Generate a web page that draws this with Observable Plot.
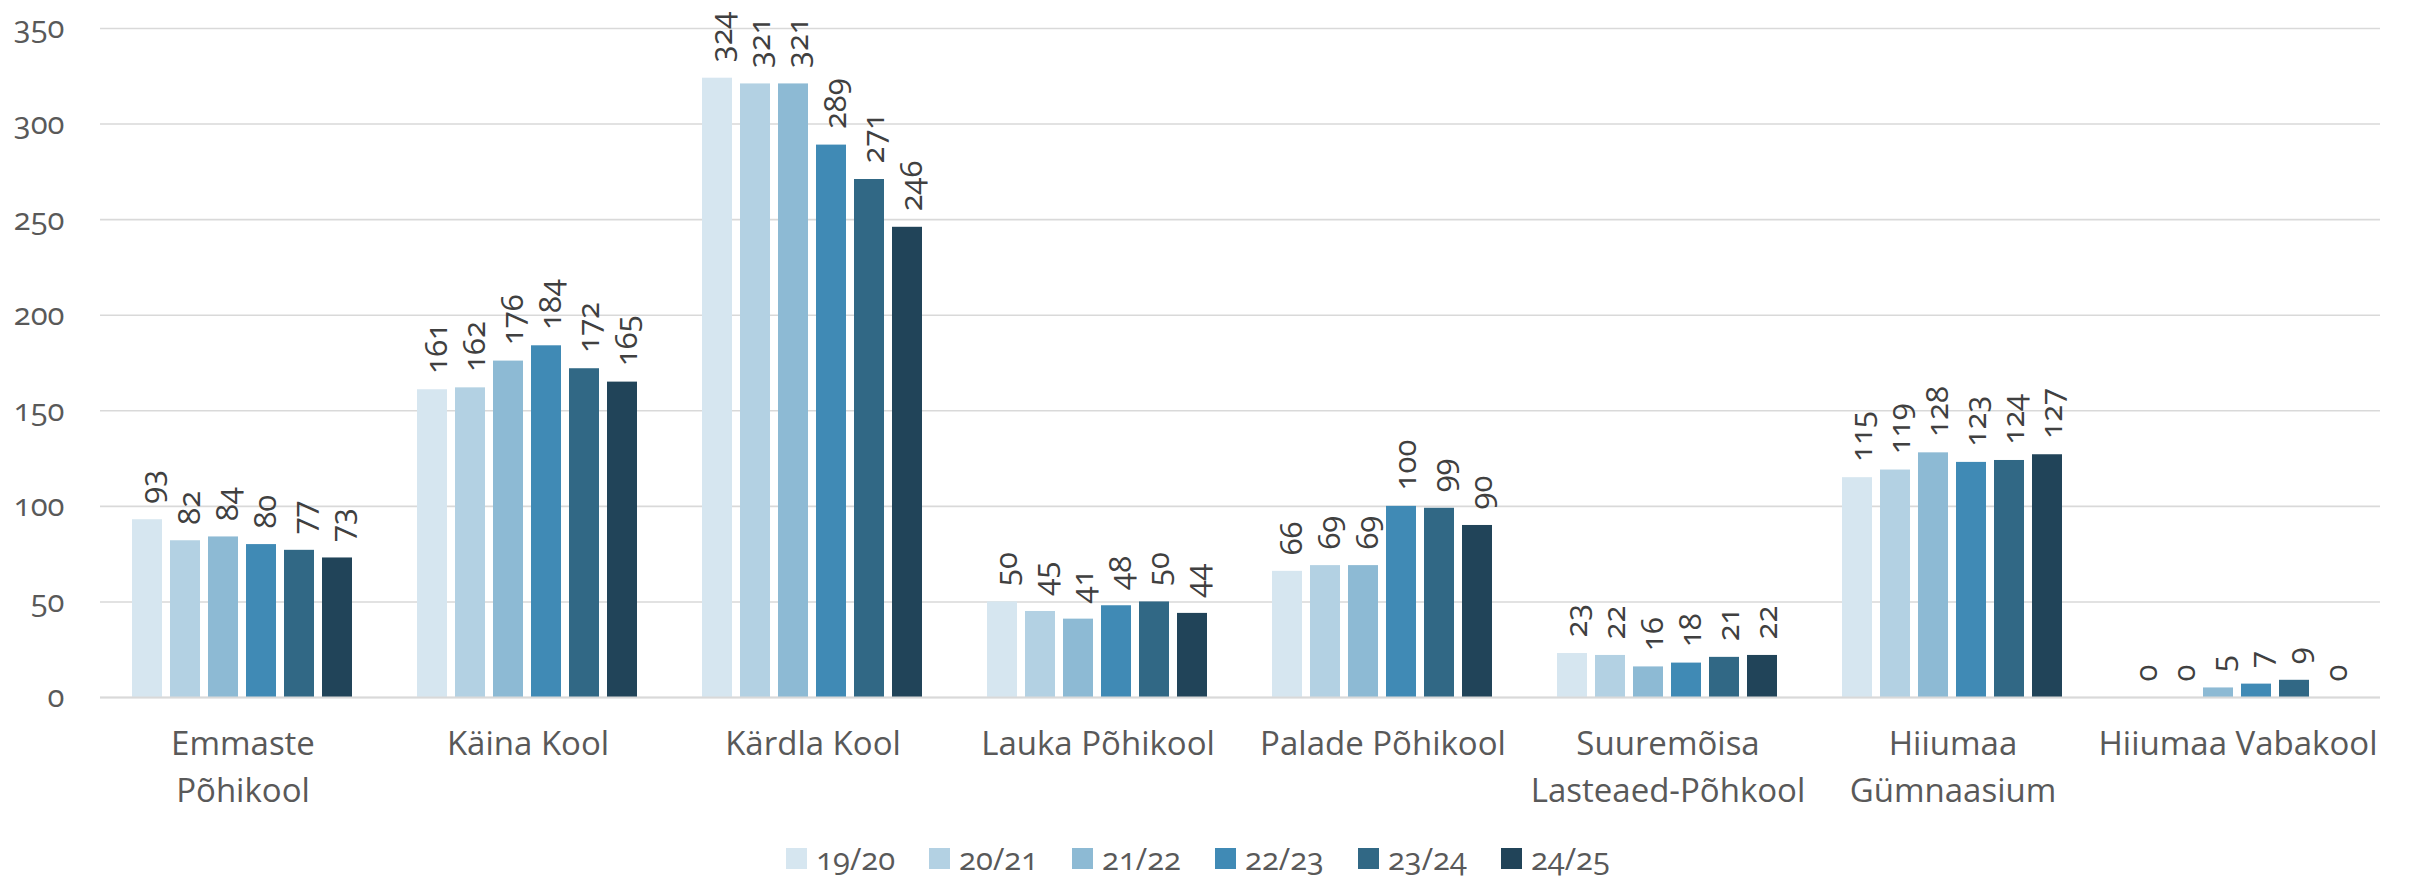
<!DOCTYPE html>
<html>
<head>
<meta charset="utf-8">
<script src="https://cdn.jsdelivr.net/npm/d3@7"></script>
<script src="https://cdn.jsdelivr.net/npm/@observablehq/plot@0.6"></script>
<style>
  html, body { margin: 0; padding: 0; background: #fff; }
  body { width: 2412px; height: 879px; overflow: hidden; font-family: "Open Sans", sans-serif; }
  #legend { display: flex; justify-content: center; padding-top: 23px; padding-right: 16px; height: 31px; }
  .item { display: flex; align-items: center; height: 21px; margin-right: 34px; }
  .item:last-child { margin-right: 0; }
  .sw { width: 21px; height: 21px; margin-right: 9px; }
  .lbl { font-size: 31px; color: #595959; line-height: 21px; font-variant-numeric: oldstyle-nums; }
</style>
</head>
<body>
<div id="chart"></div>
<div id="legend"></div>
<script>
const schools = [
  "Emmaste\nPõhikool",
  "Käina Kool",
  "Kärdla Kool",
  "Lauka Põhikool",
  "Palade Põhikool",
  "Suuremõisa\nLasteaed-Põhkool",
  "Hiiumaa\nGümnaasium",
  "Hiiumaa Vabakool"
];
const years = ["19/20", "20/21", "21/22", "22/23", "23/24", "24/25"];
const colors = ["#d6e6f0", "#b3d1e3", "#8dbad4", "#408ab5", "#316885", "#214459"];

const y1920 = [93, 161, 324, 50, 66, 23, 115, 0];
const y2021 = [82, 162, 321, 45, 69, 22, 119, 0];
const y2122 = [84, 176, 321, 41, 69, 16, 128, 5];
const y2223 = [80, 184, 289, 48, 100, 18, 123, 7];
const y2324 = [77, 172, 271, 50, 99, 21, 124, 9];
const y2425 = [73, 165, 246, 44, 90, 22, 127, 0];
const yTicks = [0, 50, 100, 150, 200, 250, 300, 350];

const series = [y1920, y2021, y2122, y2223, y2324, y2425];
const rows = schools.flatMap((s, i) => years.map((yr, j) => ({school: s, year: yr, value: series[j][i]})));

const chart = Plot.plot({
  width: 2412,
  height: 825,
  marginLeft: 99,
  marginRight: 31,
  marginTop: 28,
  marginBottom: 128,
  style: {fontFamily: "'Open Sans', sans-serif", color: "#595959", background: "#fff"},
  y: {domain: [0, 350], axis: null},
  x: {domain: years, paddingInner: 0.21, paddingOuter: 0.84, axis: null},
  fx: {domain: schools, padding: 0, axis: null},
  color: {domain: years, range: colors},
  marks: [
    Plot.gridY({ticks: yTicks, stroke: "#d9d9d9", strokeOpacity: 1, strokeWidth: 1.6}),
    Plot.axisY({ticks: yTicks, tickSize: 0, tickPadding: 36, fontSize: 31, label: null, fontVariant: "oldstyle-nums"}),
    Plot.barY(rows, {fx: "school", x: "year", y: "value", fill: "year"}),
    Plot.ruleY([0], {stroke: "#d9d9d9", strokeWidth: 2}),
    Plot.text(rows, {fx: "school", x: "year", y: "value", text: d => String(d.value), rotate: -90, textAnchor: "start", lineAnchor: "middle", dy: -16, dx: 5, fontSize: 31, fill: "#404040", fontVariant: "oldstyle-nums"}),
    Plot.axisFx({anchor: "bottom", tickSize: 0, tickPadding: 25, fontSize: 33, lineHeight: 1.4, label: null})
  ]
});
document.getElementById("chart").appendChild(chart);

const legend = document.getElementById("legend");
years.forEach((yr, i) => {
  const item = document.createElement("div");
  item.className = "item";
  const sw = document.createElement("div");
  sw.className = "sw";
  sw.style.background = colors[i];
  const lbl = document.createElement("span");
  lbl.className = "lbl";
  lbl.textContent = yr;
  item.appendChild(sw);
  item.appendChild(lbl);
  legend.appendChild(item);
});
</script>
</body>
</html>
